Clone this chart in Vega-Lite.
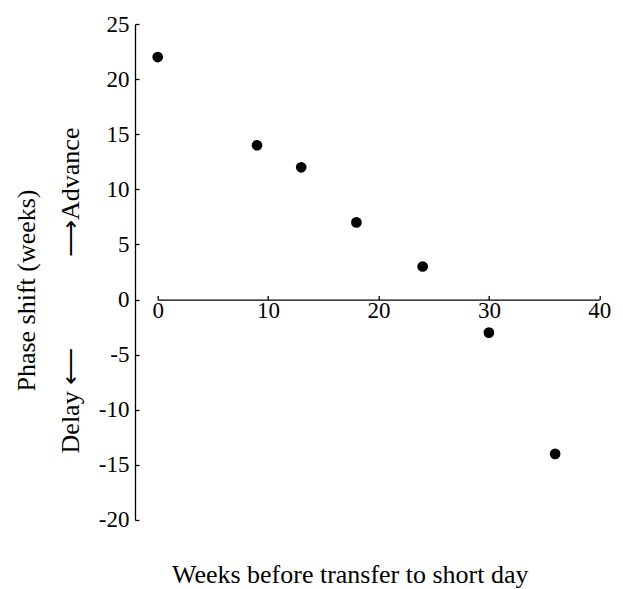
{
  "$schema": "https://vega.github.io/schema/vega-lite/v6.json",
  "width": 441.6,
  "height": 496,
  "autosize": {"type": "none"},
  "padding": {"left": 157.7, "top": 24, "right": 24, "bottom": 69},
  "background": "white",
  "config": {
    "view": {"stroke": null},
    "font": "Liberation Serif",
    "axis": {
      "domainColor": "black",
      "domainWidth": 1.3,
      "tickColor": "black",
      "tickWidth": 1.3,
      "tickSize": -4,
      "grid": false,
      "labelFont": "Liberation Serif",
      "labelFontSize": 23,
      "labelColor": "black",
      "titleFont": "Liberation Serif",
      "titleFontSize": 26,
      "titleFontWeight": "normal",
      "titleColor": "black"
    }
  },
  "data": {
    "values": [
      {"weeks": 0, "shift": 22},
      {"weeks": 9, "shift": 14},
      {"weeks": 13, "shift": 12},
      {"weeks": 18, "shift": 7},
      {"weeks": 24, "shift": 3},
      {"weeks": 30, "shift": -3},
      {"weeks": 36, "shift": -14}
    ]
  },
  "mark": {"type": "point", "filled": true, "color": "black", "opacity": 1, "size": 115},
  "encoding": {
    "x": {
      "field": "weeks",
      "type": "quantitative",
      "scale": {"domain": [0, 40], "nice": false, "zero": false},
      "axis": {
        "orient": "bottom",
        "offset": -220.4,
        "values": [0, 10, 20, 30, 40],
        "labelPadding": 4,
        "labelFlush": false,
        "labelOverlap": false,
        "title": "Weeks before transfer to short day",
        "titleX": 192,
        "titleY": 283,
        "titleAlign": "center",
        "titleBaseline": "alphabetic"
      }
    },
    "y": {
      "field": "shift",
      "type": "quantitative",
      "scale": {"domain": [-20, 25], "nice": false, "zero": false},
      "axis": {
        "orient": "left",
        "offset": 22.7,
        "values": [-20, -15, -10, -5, 0, 5, 10, 15, 20, 25],
        "labelExpr": "'' + datum.value",
        "labelPadding": 10,
        "labelFlush": false,
        "labelOverlap": false,
        "title": ["Phase shift (weeks)", "Delay ⟵\u2003\u2003\u2003\u2002⟶Advance"],
        "titleAngle": -90,
        "titleX": -108,
        "titleY": 266,
        "titleAlign": "center",
        "titleBaseline": "middle",
        "titleLineHeight": 44
      }
    }
  }
}
